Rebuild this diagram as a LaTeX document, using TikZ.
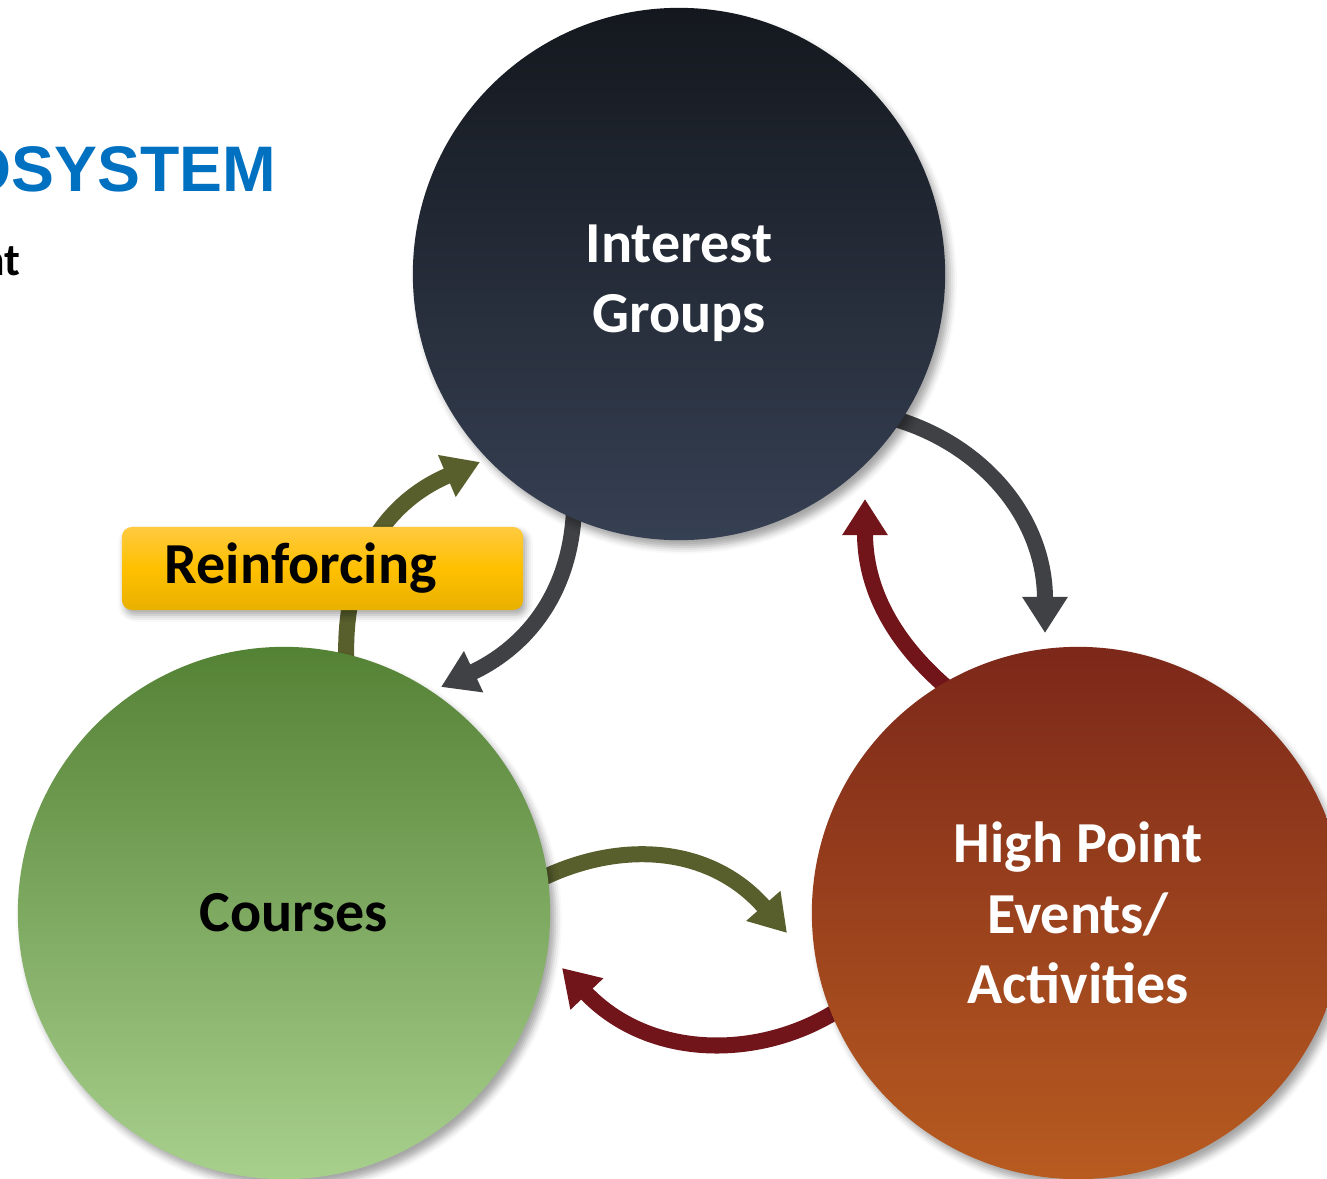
\documentclass[tikz,border=0pt]{standalone}
\usepackage{fontspec}
\setmainfont{Carlito}
\newfontfamily\headfont{Liberation Sans}
\usetikzlibrary{arrows.meta,shadows.blur}
\definecolor{igtop}{HTML}{14181E}
\definecolor{igbot}{HTML}{364053}
\definecolor{cotop}{HTML}{548235}
\definecolor{cobot}{HTML}{A8D08D}
\definecolor{hptop}{HTML}{7C281A}
\definecolor{hpbot}{HTML}{B85B20}
\definecolor{greyarr}{HTML}{404144}
\definecolor{redarr}{HTML}{72151B}
\definecolor{olivearr}{HTML}{585F2C}
\definecolor{titleblue}{HTML}{0070C0}
\definecolor{tagtop}{HTML}{FFCA40}
\definecolor{tagmid}{HTML}{FFC000}
\definecolor{tagbot}{HTML}{E8B000}

\begin{document}
\begin{tikzpicture}[line cap=butt,x=0.01cm,y=-0.01cm,
	hub/.style={circle,minimum size=5.32cm,inner sep=0pt,align=center,
		font=\fontsize{16.5}{20}\selectfont\bfseries,
		blur shadow={shadow xshift=0.05cm,shadow yshift=-0.07cm,shadow opacity=35}},
	loop/.style={line width=0.16cm,-{Triangle[width=0.43cm,length=0.36cm]}},
	tag/.style={rounded corners=0.1cm,minimum width=4.01cm,minimum height=0.83cm,
		text width=3.15cm,inner xsep=0.43cm,align=left,
		top color=tagtop,bottom color=tagbot,middle color=tagmid,
		font=\fontsize{16.5}{20}\selectfont\bfseries,
		blur shadow={shadow xshift=0.03cm,shadow yshift=-0.05cm,shadow opacity=35}}]
	\useasboundingbox (0,0) rectangle (1327,1179);
	\clip (0,0) rectangle (1327,1179);
	\node[anchor=base east,inner sep=0pt,text=titleblue,font=\headfont\fontsize{18.3}{22}\selectfont\bfseries] (title) at (277,192) {OSYSTEM};
	\node[anchor=base east,inner sep=0pt,font=\fontsize{13}{16}\selectfont\bfseries] (sub) at (21,275) {nt};
	\coordinate (igc) at (679,274);
	\coordinate (coc) at (284,913);
	\coordinate (hpc) at (1078,913);
	\coordinate (igtip) at (1045,633);
	\coordinate (hptip) at (865,499);
	\coordinate (cotip) at (787,933);
	\coordinate (hpback) at (562,968);
	\coordinate (coup) at (480,462);
	\coordinate (igdown) at (441,687);
	% loops, tails run in under the circles
	\draw[loop,greyarr] ([shift={(-34:2.58cm)}]igc) .. controls (985,445) and (1045,520) .. (igtip);
	\draw[loop,redarr] ([shift={(120:2.58cm)}]hpc) .. controls (885,635) and (865,580) .. (hptip);
	\draw[loop,olivearr] ([shift={(7.5:2.58cm)}]coc) .. controls (620,840) and (710,845) .. (cotip);
	\draw[loop,redarr] ([shift={(202:2.58cm)}]hpc) .. controls (760,1060) and (650,1060) .. (hpback);
	\draw[loop,olivearr] ([shift={(76:2.58cm)}]coc) .. controls (342,560) and (390,500) .. (coup);
	\draw[loop,greyarr] ([shift={(-114:2.58cm)}]igc) .. controls (570,600) and (520,650) .. (igdown);
	\node[hub,top color=igtop,bottom color=igbot,text=white] (ig) at (igc) {\\[-4pt]Interest\\Groups};
	\node[hub,top color=cotop,bottom color=cobot,text=black] (co) at (coc) {\hspace*{5.5pt}Courses};
	\node[hub,top color=hptop,bottom color=hpbot,text=white] (hp) at (hpc) {High Point\\Events/\\Activities};
	\node[tag] (reinf) at (322.5,568.5) {Reinforcing};
\end{tikzpicture}
\end{document}
